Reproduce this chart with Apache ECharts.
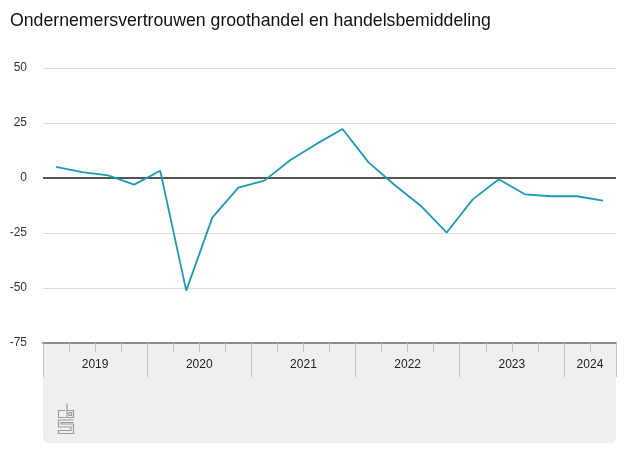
<!DOCTYPE html>
<html>
<head>
<meta charset="utf-8">
<script src="https://cdn.jsdelivr.net/npm/echarts@6/dist/echarts.min.js"></script>
<style>html,body{margin:0;padding:0;background:#fff;}#c{width:627px;height:470px;}</style>
</head>
<body>
<div id="c"></div>
<script>
var title = 'Ondernemersvertrouwen groothandel en handelsbemiddeling';
var quarters = [
  '2019 1e kwartaal','2019 2e kwartaal','2019 3e kwartaal','2019 4e kwartaal',
  '2020 1e kwartaal','2020 2e kwartaal','2020 3e kwartaal','2020 4e kwartaal',
  '2021 1e kwartaal','2021 2e kwartaal','2021 3e kwartaal','2021 4e kwartaal',
  '2022 1e kwartaal','2022 2e kwartaal','2022 3e kwartaal','2022 4e kwartaal',
  '2023 1e kwartaal','2023 2e kwartaal','2023 3e kwartaal','2023 4e kwartaal',
  '2024 1e kwartaal','2024 2e kwartaal'
];
var values = [5.1, 2.7, 1.2, -3.0, 3.3, -51.2, -18.0, -4.4, -1.2, 8.2, 15.5, 22.3,
  7.1, -3.2, -12.6, -24.8, -9.7, -0.6, -7.4, -8.3, -8.3, -10.3];
var yTicks = [-75, -50, -25, 0, 25, 50];
var years = ['2019','2020','2021','2022','2023','2024'];

// year group boundaries and centres derived from the quarter categories
var yearStarts = [], yearCentres = [];
years.forEach(function (y) {
  var first = -1, count = 0;
  quarters.forEach(function (q, i) { if (q.indexOf(y) === 0) { if (first < 0) first = i; count++; } });
  yearStarts.push(first);
  yearCentres.push(first + count / 2);
});
var yearBounds = yearStarts.concat([quarters.length]);

var chart = echarts.init(document.getElementById('c'), null, {renderer: 'canvas'});
var G = {left: 43, right: 11, top: 68, bottom: 127};
var logoX = 56, logoY = 401;
var ls = {stroke: '#9a9a9a', lineWidth: 1.2, fill: null};
chart.setOption({
  animation: false,
  title: {text: title, left: 5, top: 7, textStyle: {fontFamily: 'Liberation Sans, Arial', fontSize: 17.7, fontWeight: 'normal', color: '#111'}},
  graphic: [
    {type: 'rect', z: -10, shape: {x: 43, y: 343, width: 573, height: 100, r: [0, 0, 6, 6]}, style: {fill: '#efefef'}},
    {type: 'group', left: logoX, top: logoY, z: 5, children: [
      {type: 'polyline', shape: {points: [[7, 7], [0, 7], [0, 14], [7, 14]]}, style: ls},
      {type: 'polyline', shape: {points: [[8.5, 0], [8.5, 14], [15, 14], [15, 7], [8.5, 7]]}, style: ls},
      {type: 'rect', shape: {x: 10.5, y: 9, width: 2.5, height: 3}, style: ls},
      {type: 'polyline', shape: {points: [[15, 16.5], [0, 16.5], [0, 23.5], [12.5, 23.5], [12.5, 27], [0, 27], [0, 30], [15, 30], [15, 20.5], [2.5, 20.5], [2.5, 19], [15, 19]]}, style: ls}
    ]}
  ],
  grid: G,
  xAxis: [
    {
      type: 'category', data: quarters, boundaryGap: true,
      axisLine: {show: true, onZero: false, lineStyle: {color: '#8c8c8c', width: 2}},
      axisTick: {show: true, interval: 0, length: 9, lineStyle: {color: '#c4c4c4', width: 1}},
      axisLabel: {show: false}, splitLine: {show: false}
    },
    {
      type: 'value', min: 0, max: quarters.length, position: 'bottom',
      axisLine: {show: false, onZero: false},
      axisTick: {show: true, customValues: yearBounds, length: 34, lineStyle: {color: '#c4c4c4', width: 1}},
      axisLabel: {show: true, customValues: yearCentres, margin: 16, color: '#222', fontSize: 12,
        fontFamily: 'Liberation Sans, Arial',
        formatter: function (v) { var i = yearCentres.indexOf(v); return i >= 0 ? years[i] : ''; }},
      splitLine: {show: false}
    }
  ],
  yAxis: {
    type: 'value', min: yTicks[0], max: yTicks[yTicks.length - 1], interval: 25,
    axisLine: {show: false}, axisTick: {show: false},
    axisLabel: {color: '#333', fontSize: 12, fontFamily: 'Liberation Sans, Arial', margin: 16},
    splitLine: {lineStyle: {color: '#dcdcdc', width: 1}}
  },
  series: [{
    type: 'line', data: values, xAxisIndex: 0, symbol: 'none',
    lineStyle: {color: '#1d9bb6', width: 1.8},
    markLine: {silent: true, symbol: 'none', label: {show: false},
      lineStyle: {color: '#555', width: 2, type: 'solid'}, data: [{yAxis: 0}], z: 1},
    z: 3
  }]
});
</script>
</body>
</html>
